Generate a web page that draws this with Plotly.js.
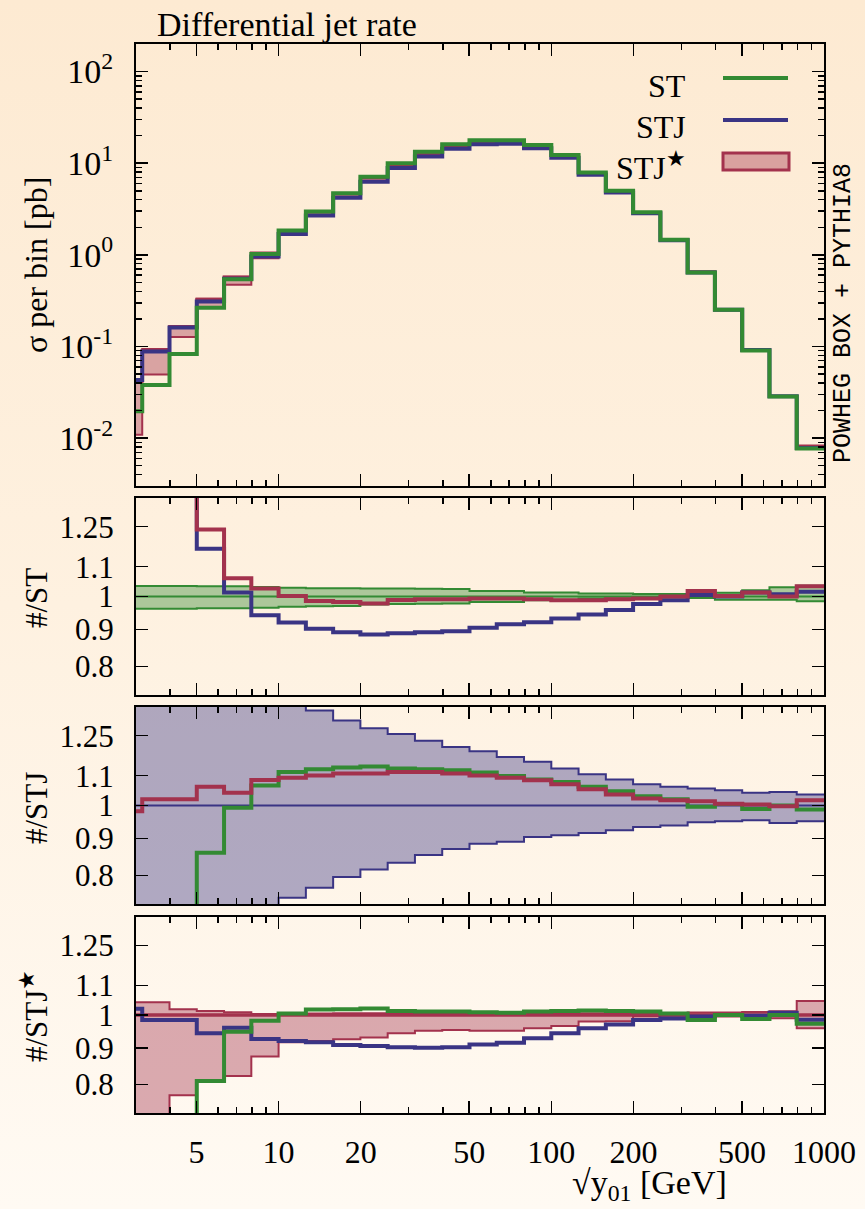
<!DOCTYPE html>
<html>
<head>
<meta charset="utf-8">
<script src="https://cdn.plot.ly/plotly-3.0.1.min.js"></script>
<style>
  html, body { margin: 0; padding: 0; width: 865px; height: 1209px; overflow: hidden;
    background: linear-gradient(to bottom, #fdead2 0%, #fef1e0 50%, #fffaf3 100%); }
  #chart { width: 865px; height: 1209px; }
</style>
</head>
<body>
<div id="chart"></div>
<script>
// ---- bin edges of sqrt(y01) [GeV] (10 bins per decade) ----
const binEdges = [2.512, 3.162, 3.981, 5.012, 6.310, 7.943, 10, 12.59, 15.85, 19.95, 25.12, 31.62, 39.81,
  50.12, 63.10, 79.43, 100, 125.9, 158.5, 199.5, 251.2, 316.2, 398.1, 501.2, 631.0, 794.3, 1000];

// ---- panel 1: sigma per bin [pb] ----
const sigmaST   = [0.0196, 0.038, 0.083, 0.265, 0.54, 1.02, 1.84, 2.97, 4.7, 7.1, 10.0, 13.3, 16.1, 17.8, 17.8,
  15.8, 12.3, 7.9, 5.0, 2.92, 1.46, 0.64, 0.251, 0.0905, 0.0285, 0.0077];
const sigmaSTJ  = [0.043, 0.088, 0.161, 0.309, 0.547, 0.961, 1.69, 2.68, 4.19, 6.29, 8.89, 11.86, 14.4, 16.1, 16.3,
  14.55, 11.46, 7.46, 4.79, 2.85, 1.44, 0.643, 0.251, 0.0917, 0.0287, 0.0078];
const sigmaSTJs = [0.042, 0.090, 0.164, 0.328, 0.572, 1.047, 1.84, 2.93, 4.62, 6.94, 9.89, 13.2, 15.95, 17.7, 17.7,
  15.66, 12.15, 7.8, 4.95, 2.9, 1.46, 0.651, 0.2515, 0.0917, 0.0285, 0.00795];
const sigmaSTJsLo = [0.0109, 0.0495, 0.1268, 0.2657, 0.4702, 0.916, 1.685, 2.696, 4.274, 6.454, 9.326, 12.55, 15.2,
  16.83, 16.83, 15.0, 11.72, 7.636, 4.851, 2.886, 1.457, 0.6477, 0.2502, 0.0912, 0.0282, 0.00762];
const sigmaSTJsHi = [0.0438, 0.0938, 0.1671, 0.3323, 0.5771, 1.050, 1.847, 2.945, 4.648, 6.982, 9.949, 13.28, 16.05,
  17.81, 17.81, 15.75, 12.22, 7.847, 4.98, 2.917, 1.469, 0.6562, 0.2535, 0.0926, 0.0288, 0.00832];

// ---- panel 2: ratio to ST ----
const stBandHi2 = [1.034, 1.034, 1.034, 1.033, 1.033, 1.031, 1.028, 1.027, 1.027, 1.026, 1.026, 1.025, 1.024, 1.018,
  1.018, 1.013, 1.013, 1.010, 1.010, 1.008, 1.008, 1.010, 1.012, 1.020, 1.030, 1.035];
const stBandLo2 = [0.962, 0.962, 0.962, 0.963, 0.963, 0.965, 0.968, 0.969, 0.970, 0.975, 0.976, 0.977, 0.978, 0.983,
  0.983, 0.988, 0.988, 0.994, 0.994, 0.997, 0.997, 0.995, 0.990, 0.990, 0.990, 0.985];
const stOverST = [1, 1, 1, 1, 1, 1, 1, 1, 1, 1, 1, 1, 1, 1, 1, 1, 1, 1, 1, 1, 1, 1, 1, 1, 1, 1];
const stjOverST = [2.19, 2.32, 1.94, 1.165, 1.013, 0.942, 0.920, 0.902, 0.892, 0.886, 0.889, 0.892, 0.895, 0.905,
  0.915, 0.921, 0.932, 0.944, 0.958, 0.976, 0.988, 1.005, 1.000, 1.013, 1.007, 1.015];
const stjsOverST = [2.14, 2.37, 1.98, 1.239, 1.060, 1.026, 1.002, 0.986, 0.983, 0.978, 0.989, 0.991, 0.991, 0.994,
  0.994, 0.991, 0.988, 0.988, 0.991, 0.994, 1.000, 1.018, 1.002, 1.013, 1.000, 1.033];

// ---- panel 3: ratio to STJ ----
const stjBandHi3 = [1.9, 1.85, 1.75, 1.65, 1.55, 1.47, 1.40, 1.355, 1.312, 1.280, 1.257, 1.230, 1.206, 1.189, 1.168,
  1.150, 1.126, 1.105, 1.087, 1.070, 1.062, 1.056, 1.050, 1.042, 1.044, 1.036];
const stjBandLo3 = [0.50, 0.52, 0.55, 0.60, 0.65, 0.70, 0.745, 0.769, 0.796, 0.815, 0.833, 0.854, 0.870, 0.885,
  0.891, 0.904, 0.909, 0.916, 0.924, 0.934, 0.938, 0.948, 0.951, 0.954, 0.946, 0.951];
const stjOverSTJ = [1, 1, 1, 1, 1, 1, 1, 1, 1, 1, 1, 1, 1, 1, 1, 1, 1, 1, 1, 1, 1, 1, 1, 1, 1, 1];
const stOverSTJ = [0.456, 0.432, 0.516, 0.860, 0.993, 1.066, 1.113, 1.123, 1.129, 1.133, 1.126, 1.123, 1.119, 1.111,
  1.099, 1.087, 1.078, 1.062, 1.047, 1.030, 1.020, 0.996, 1.005, 0.989, 1.000, 0.987];
const stjsOverSTJ = [0.982, 1.020, 1.020, 1.062, 1.042, 1.085, 1.093, 1.101, 1.108, 1.108, 1.113, 1.113, 1.108,
  1.101, 1.093, 1.084, 1.070, 1.053, 1.036, 1.023, 1.017, 1.014, 1.006, 1.003, 0.998, 1.017];

// ---- panel 4: ratio to STJ* ----
const stjsBandHi4 = [1.042, 1.042, 1.019, 1.013, 1.009, 1.003, 1.004, 1.005, 1.006, 1.006, 1.006, 1.006, 1.006,
  1.006, 1.006, 1.006, 1.006, 1.006, 1.006, 1.006, 1.006, 1.008, 1.008, 1.010, 1.012, 1.046];
const stjsBandLo4 = [0.26, 0.55, 0.773, 0.81, 0.822, 0.875, 0.916, 0.92, 0.925, 0.93, 0.943, 0.951, 0.953, 0.951,
  0.951, 0.958, 0.965, 0.979, 0.98, 0.995, 0.998, 0.995, 0.995, 0.994, 0.99, 0.958];
const stjsOverSTJs = [1, 1, 1, 1, 1, 1, 1, 1, 1, 1, 1, 1, 1, 1, 1, 1, 1, 1, 1, 1, 1, 1, 1, 1, 1, 1];
const stOverSTJs = [0.467, 0.422, 0.506, 0.809, 0.948, 0.982, 1.005, 1.018, 1.019, 1.021, 1.013, 1.011, 1.011,
  1.009, 1.007, 1.011, 1.013, 1.015, 1.013, 1.011, 1.005, 0.984, 1.000, 0.987, 1.000, 0.972];
const stjOverSTJs = [1.020, 0.984, 0.984, 0.943, 0.960, 0.926, 0.920, 0.916, 0.908, 0.905, 0.902, 0.900, 0.902,
  0.910, 0.915, 0.928, 0.943, 0.958, 0.970, 0.984, 0.989, 0.995, 1.000, 0.998, 1.007, 0.985];

// ---- tick labels ----
const xTickVals = [5, 10, 20, 50, 100, 200, 500, 1000];
const xTickText = ['5', '10', '20', '50', '100', '200', '500', '1000'];
const xMinorVals = [4, 6, 7, 8, 9, 30, 40, 60, 70, 80, 90, 300, 400, 600, 700, 800, 900];
const yMainTickVals = [0.01, 0.1, 1, 10, 100];
const yMainTickText = ['10<sup>-2</sup>', '10<sup>-1</sup>', '10<sup>0</sup>', '10<sup>1</sup>', '10<sup>2</sup>'];
const yRatioTickVals = [0.8, 0.9, 1, 1.1, 1.25];
const yRatioTickText = ['0.8', '0.9', '1', '1.1', '1.25'];

// ---- styles ----
const GREEN = '#338a33', BLUE = '#3a3484', RED = '#a3324d';
const GREEN_F = 'rgba(51,138,51,0.4)', BLUE_F = 'rgba(58,52,132,0.4)', RED_F = 'rgba(163,50,77,0.4)';
const SERIF = '"Liberation Serif", "DejaVu Serif", serif';
const MONO = '"Liberation Mono", "DejaVu Sans Mono", monospace';

function stepY(v) { return v.concat([v[v.length - 1]]); }
function line(vals, k, color, width) {
  return { type: 'scatter', mode: 'lines', x: binEdges, y: stepY(vals),
    xaxis: k === 1 ? 'x' : 'x' + k, yaxis: k === 1 ? 'y' : 'y' + k,
    line: { color: color, width: width, shape: 'hv' }, showlegend: false, hoverinfo: 'skip' };
}
function band(lo, hi, k, color, fillc, width) {
  const a = line(lo, k, color, width);
  const b = line(hi, k, color, width);
  b.fill = 'tonexty'; b.fillcolor = fillc;
  return [a, b];
}

const traces = [].concat(
  band(sigmaSTJsLo, sigmaSTJsHi, 1, RED, RED_F, 2),
  [line(sigmaSTJs, 1, RED, 3), line(sigmaSTJ, 1, BLUE, 4), line(sigmaST, 1, GREEN, 4)],
  band(stBandLo2, stBandHi2, 2, GREEN, GREEN_F, 2),
  [line(stOverST, 2, GREEN, 2), line(stjOverST, 2, BLUE, 4), line(stjsOverST, 2, RED, 4)],
  band(stjBandLo3, stjBandHi3, 3, BLUE, BLUE_F, 2),
  [line(stjOverSTJ, 3, BLUE, 2), line(stOverSTJ, 3, GREEN, 4), line(stjsOverSTJ, 3, RED, 4)],
  band(stjsBandLo4, stjsBandHi4, 4, RED, RED_F, 2),
  [line(stjsOverSTJs, 4, RED, 3.5), line(stjOverSTJs, 4, BLUE, 4), line(stOverSTJs, 4, GREEN, 4)]
);

const yMinor = [];
[0.001, 0.01, 0.1, 1, 10, 100].forEach(d => { for (let m = 2; m <= 9; m++) yMinor.push(m * d); });

function xAxis(k) {
  const ax = {
    type: 'log', range: [Math.log10(3), 3], anchor: k === 1 ? 'y' : 'y' + k,
    tickmode: 'array', tickvals: xTickVals, ticktext: xTickText,
    showticklabels: k === 4, ticks: 'inside', ticklen: 12, tickwidth: 1.5, tickcolor: '#000',
    minor: { tickmode: 'array', tickvals: xMinorVals, ticks: 'inside', ticklen: 6, tickwidth: 1.5, tickcolor: '#000' },
    showline: true, linewidth: 2, linecolor: '#000', mirror: 'allticks',
    showgrid: false, zeroline: false, ticklabelstandoff: 10,
    tickfont: { family: SERIF, size: 32, color: '#000' }
  };
  if (k !== 1) ax.matches = 'x';
  return ax;
}
function yRatio(dom) {
  return {
    type: 'log', range: [Math.log10(0.73), Math.log10(1.37)], domain: dom,
    tickmode: 'array', tickvals: yRatioTickVals, ticktext: yRatioTickText,
    ticks: 'inside', ticklen: 12, tickwidth: 1.5, tickcolor: '#000',
    showline: true, linewidth: 2, linecolor: '#000', mirror: 'allticks',
    showgrid: false, zeroline: false, ticklabelstandoff: 14,
    tickfont: { family: SERIF, size: 31, color: '#000' }
  };
}

const L = 136, PW = 688, PH = 1069, B = 1113;
const xp = px => (px - L) / PW;
const yp = py => (B - py) / PH;

const layout = {
  width: 865, height: 1209,
  margin: { l: 136, r: 41, t: 44, b: 96 },
  paper_bgcolor: 'rgba(0,0,0,0)', plot_bgcolor: 'rgba(0,0,0,0)',
  font: { family: SERIF, color: '#000' },
  showlegend: false,
  title: { text: 'Differential jet rate', font: { family: SERIF, size: 34, color: '#000' },
    xref: 'paper', x: xp(157), xanchor: 'left', yref: 'container', y: 1 - 24 / 1209, yanchor: 'middle' },
  xaxis: xAxis(1), xaxis2: xAxis(2), xaxis3: xAxis(3), xaxis4: xAxis(4),
  yaxis: {
    type: 'log', range: [Math.log10(0.003), Math.log10(200)], domain: [627 / 1069, 1],
    tickmode: 'array', tickvals: yMainTickVals, ticktext: yMainTickText,
    ticks: 'inside', ticklen: 12, tickwidth: 1.5, tickcolor: '#000',
    minor: { tickmode: 'array', tickvals: yMinor, ticks: 'inside', ticklen: 6, tickwidth: 1.5, tickcolor: '#000' },
    showline: true, linewidth: 2, linecolor: '#000', mirror: 'allticks',
    showgrid: false, zeroline: false, ticklabelstandoff: 14,
    tickfont: { family: SERIF, size: 34, color: '#000' }
  },
  yaxis2: yRatio([418 / 1069, 615 / 1069]),
  yaxis3: yRatio([209 / 1069, 406 / 1069]),
  yaxis4: yRatio([0, 196 / 1069]),
  annotations: [
    { text: 'σ per bin [pb]', xref: 'paper', yref: 'paper', x: xp(36), y: yp(265), textangle: -90,
      showarrow: false, font: { family: SERIF, size: 32 }, xanchor: 'center', yanchor: 'middle' },
    { text: '#/ST', xref: 'paper', yref: 'paper', x: xp(36), y: yp(598), textangle: -90,
      showarrow: false, font: { family: SERIF, size: 31 }, xanchor: 'center', yanchor: 'middle' },
    { text: '#/STJ', xref: 'paper', yref: 'paper', x: xp(36), y: yp(808), textangle: -90,
      showarrow: false, font: { family: SERIF, size: 31 }, xanchor: 'center', yanchor: 'middle' },
    { text: '#/STJ<sup>★</sup>', xref: 'paper', yref: 'paper', x: xp(34), y: yp(1016), textangle: -90,
      showarrow: false, font: { family: SERIF, size: 31 }, xanchor: 'center', yanchor: 'middle' },
    { text: '√y<sub>01</sub> [GeV]', xref: 'paper', yref: 'paper', x: xp(570), y: yp(1185),
      showarrow: false, font: { family: SERIF, size: 34 }, xanchor: 'left', yanchor: 'middle' },
    { text: 'POWHEG BOX + PYTHIA8', xref: 'paper', yref: 'paper', x: xp(843), y: yp(313), textangle: -90,
      showarrow: false, font: { family: MONO, size: 25 }, xanchor: 'center', yanchor: 'middle' },
    { text: 'ST', xref: 'paper', yref: 'paper', x: xp(688), y: yp(86), showarrow: false,
      font: { family: SERIF, size: 32 }, xanchor: 'right', yanchor: 'middle' },
    { text: 'STJ', xref: 'paper', yref: 'paper', x: xp(688), y: yp(127), showarrow: false,
      font: { family: SERIF, size: 32 }, xanchor: 'right', yanchor: 'middle' },
    { text: 'STJ<sup>★</sup>', xref: 'paper', yref: 'paper', x: xp(688), y: yp(166), showarrow: false,
      font: { family: SERIF, size: 32 }, xanchor: 'right', yanchor: 'middle' }
  ],
  shapes: [
    { type: 'line', xref: 'paper', yref: 'paper', x0: xp(723), x1: xp(788), y0: yp(78), y1: yp(78),
      line: { color: GREEN, width: 4 } },
    { type: 'line', xref: 'paper', yref: 'paper', x0: xp(723), x1: xp(788), y0: yp(120), y1: yp(120),
      line: { color: BLUE, width: 4 } },
    { type: 'rect', xref: 'paper', yref: 'paper', x0: xp(723), x1: xp(789), y0: yp(170), y1: yp(153),
      fillcolor: RED_F, line: { color: RED, width: 3 } }
  ]
};

Plotly.newPlot('chart', traces, layout, { staticPlot: true, displayModeBar: false });
</script>
</body>
</html>
